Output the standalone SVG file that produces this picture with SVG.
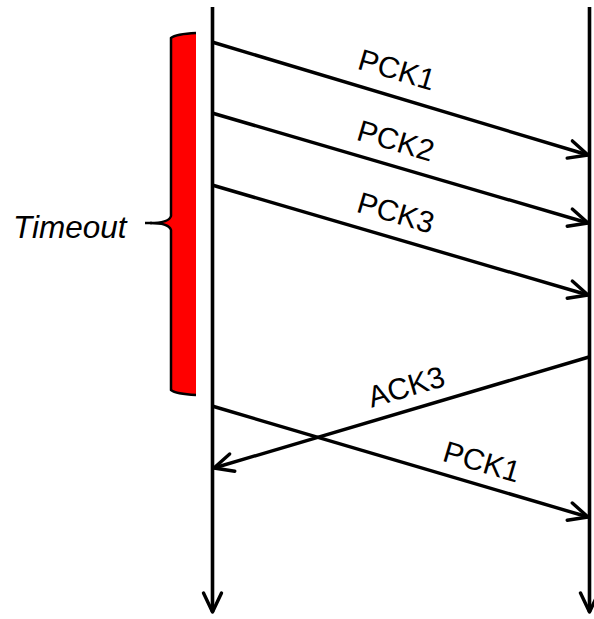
<svg xmlns="http://www.w3.org/2000/svg" width="594" height="619" viewBox="0 0 594 619">
  <defs>
    <marker id="open" viewBox="0 0 26 26" refX="23" refY="13" markerWidth="26" markerHeight="26" markerUnits="userSpaceOnUse" orient="auto">
      <path d="M4,4 L23,13 L4,22" fill="none" stroke="#000" stroke-width="3.4" stroke-linecap="round" stroke-linejoin="round"/>
    </marker>
  </defs>
  <style>
    .life { stroke: #000; stroke-width: 3.6; fill: none; }
    .msg { stroke: #000; stroke-width: 3.4; fill: none; marker-end: url(#open); }
    .lbl { font-family: "Liberation Sans", Arial, sans-serif; font-size: 30px; fill: #000; text-anchor: middle; }
    .note { font-family: "Liberation Sans", Arial, sans-serif; font-size: 31.5px; font-style: italic; fill: #000; }
  </style>

  <!-- timeout brace -->
  <g id="timeout">
    <path d="M196,33 Q176,34 171,38 L171,216 Q169,223 150,223 Q169,223 171,230 L171,390 Q176,394 196,395 Z" fill="#ff0000" stroke="none"/>
    <path d="M196,33 Q176,34 171,38 L171,216 Q169,223 150,223 Q169,223 171,230 L171,390 Q176,394 196,395" fill="none" stroke="#000" stroke-width="2.5"/>
    <line x1="145" y1="223" x2="152" y2="223" stroke="#000" stroke-width="2.5"/>
    <text class="note" x="13" y="238">Timeout</text>
  </g>

  <!-- lifelines -->
  <g id="sender">
    <line class="life" x1="212.5" y1="7" x2="212.5" y2="612" marker-end="url(#open)"/>
  </g>
  <g id="receiver">
    <line class="life" x1="589.5" y1="7" x2="589.5" y2="612" marker-end="url(#open)"/>
  </g>

  <!-- messages -->
  <g id="connectors">
    <line class="msg" x1="212" y1="42" x2="588" y2="155"/>
    <line class="msg" x1="212" y1="113" x2="588" y2="223"/>
    <line class="msg" x1="212" y1="185" x2="588" y2="295"/>
    <line class="msg" x1="589" y1="357" x2="214" y2="468"/>
    <line class="msg" x1="212" y1="406" x2="588" y2="517"/>
  </g>

  <g id="labels">
    <text class="lbl" transform="translate(397,69) rotate(16.5)" y="11">PCK1</text>
    <text class="lbl" transform="translate(396,140) rotate(16.5)" y="11">PCK2</text>
    <text class="lbl" transform="translate(396,212) rotate(16.5)" y="11">PCK3</text>
    <text class="lbl" transform="translate(406,386) rotate(-16.5)" y="11">ACK3</text>
    <text class="lbl" transform="translate(482,461) rotate(16.5)" y="11">PCK1</text>
  </g>
</svg>
